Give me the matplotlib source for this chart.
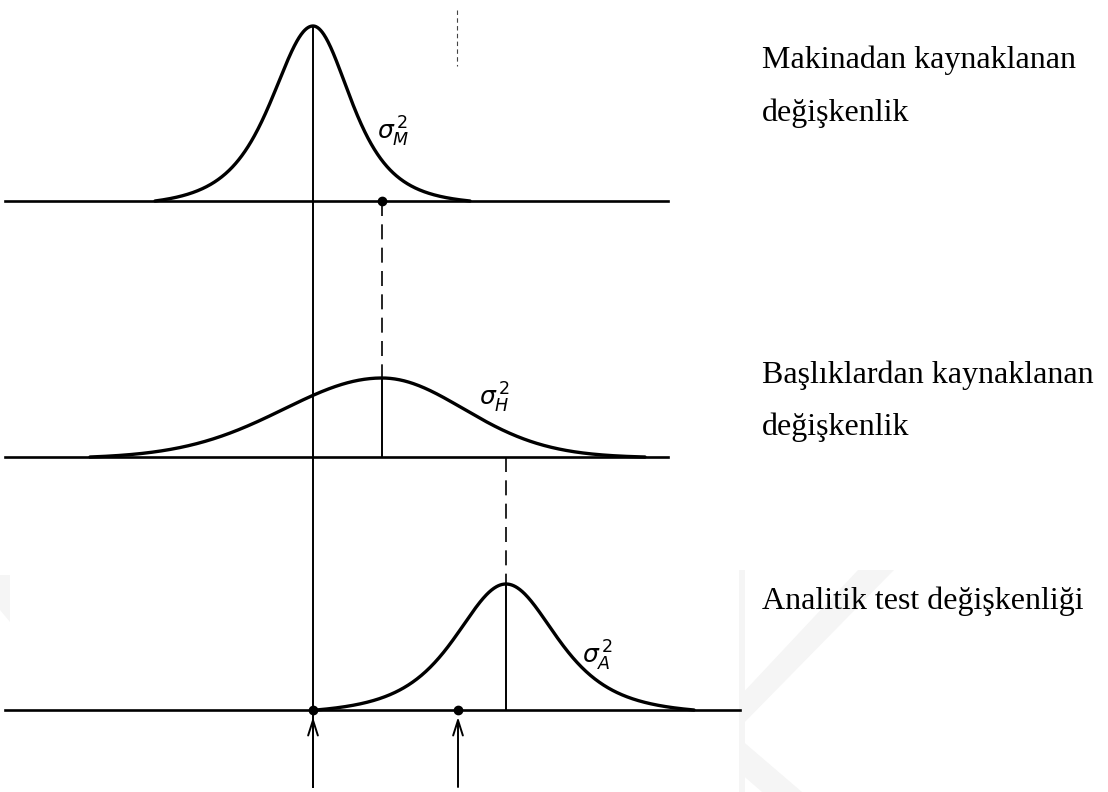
import matplotlib.pyplot as plt
import numpy as np
from matplotlib.patches import Polygon

# three variance components, drawn on a page-like coordinate grid (x right, y down)
labels = [
    ["Makinadan kaynaklanan", "değişkenlik"],
    ["Başlıklardan kaynaklanan", "değişkenlik"],
    ["Analitik test değişkenliği"],
]
sigma_labels = [r"$\sigma^{\,2}_M$", r"$\sigma^{\,2}_H$", r"$\sigma^{\,2}_A$"]

baselines = [201, 457, 710]
baseline_ends = [668, 668, 740]
centers = [313, 382, 506]
heights = [175, 79, 126]
width_left = [44, 100, 54]
width_right = [40, 83, 54]
tail_nu = [3, 40, 3]
spans = [(155, 470), (90, 645), (316, 694)]

# means carried between the panels, and the two marked points on the bottom axis
carry_x = [382, 506]
marks_x = [313, 458]

sigma_pos = [(377, 140), (479, 406), (582, 664)]
label_baselines = [[68, 121], [383, 435], [609]]


def shape(dx, w, nu):
    return (1 + (dx / w) ** 2 / nu) ** (-(nu + 1) / 2)


fig = plt.figure(figsize=(11.08, 7.92), dpi=100)
ax = fig.add_axes([0, 0, 1, 1])
ax.set_xlim(0, 1108)
ax.set_ylim(792, 0)
ax.axis("off")

# faint watermark behind the scanned area
wm = "#f5f5f5"
for pts in [
    [(739, 697), (858, 570), (894, 570), (739, 728)],
    [(739, 738), (739, 772), (762, 792), (802, 792)],
    [(739, 570), (745, 570), (745, 792), (739, 792)],
    [(0, 575), (10, 575), (10, 622), (0, 610)],
]:
    ax.add_patch(Polygon(pts, closed=True, fc=wm, ec="none", zorder=0))

for i in range(3):
    c, h, y0 = centers[i], heights[i], baselines[i]
    lo, hi = spans[i]
    x = np.linspace(lo, hi, 600)
    w = np.where(x < c, width_left[i], width_right[i])
    f = shape(x - c, w, tail_nu[i])
    f_lo = shape(lo - c, width_left[i], tail_nu[i])
    f_hi = shape(hi - c, width_right[i], tail_nu[i])
    edge = np.where(x < c, f_lo, f_hi)
    f = (f - edge) / (1 - edge)
    ax.plot(x, y0 - h * f, color="black", lw=2.4, solid_capstyle="round")
    ax.plot([5, baseline_ends[i]], [y0, y0], color="black", lw=1.9)
    sx, sy = sigma_pos[i]
    ax.text(sx, sy, sigma_labels[i], fontsize=18, va="baseline", ha="left")
    for line, yb in zip(labels[i], label_baselines[i]):
        ax.text(762, yb, line, fontsize=23, family="Liberation Serif",
                va="baseline", ha="left")

# main reference line through the first mean
ax.plot([centers[0], centers[0]], [baselines[0] - heights[0], 787],
        color="black", lw=1.4)

# dashed carry-over of each mean to the next panel, then solid to its axis
for k, xc in enumerate(carry_x):
    top = baselines[k]
    peak = baselines[k + 1] - heights[k + 1]
    ax.plot([xc, xc], [top, peak], color="black", lw=1.2, ls=(0, (9, 5)))
    ax.plot([xc, xc], [peak, baselines[k + 1]], color="black", lw=1.4)

ax.plot([carry_x[0]], [baselines[0]], "o", color="black", ms=6)
ax.plot(marks_x, [baselines[2]] * 2, "o", color="black", ms=6)

for xm in marks_x:
    ax.annotate("", xy=(xm, baselines[2] + 7), xytext=(xm, 787),
                arrowprops=dict(arrowstyle="->,head_length=1.1,head_width=0.35",
                                color="black", lw=1.4, shrinkA=0, shrinkB=0))

# stray dashed mark near the top edge of the page
ax.plot([457, 457], [10, 66], color="#444444", lw=0.8, ls=(0, (4, 3)))

fig.savefig("out.png", dpi=100)
